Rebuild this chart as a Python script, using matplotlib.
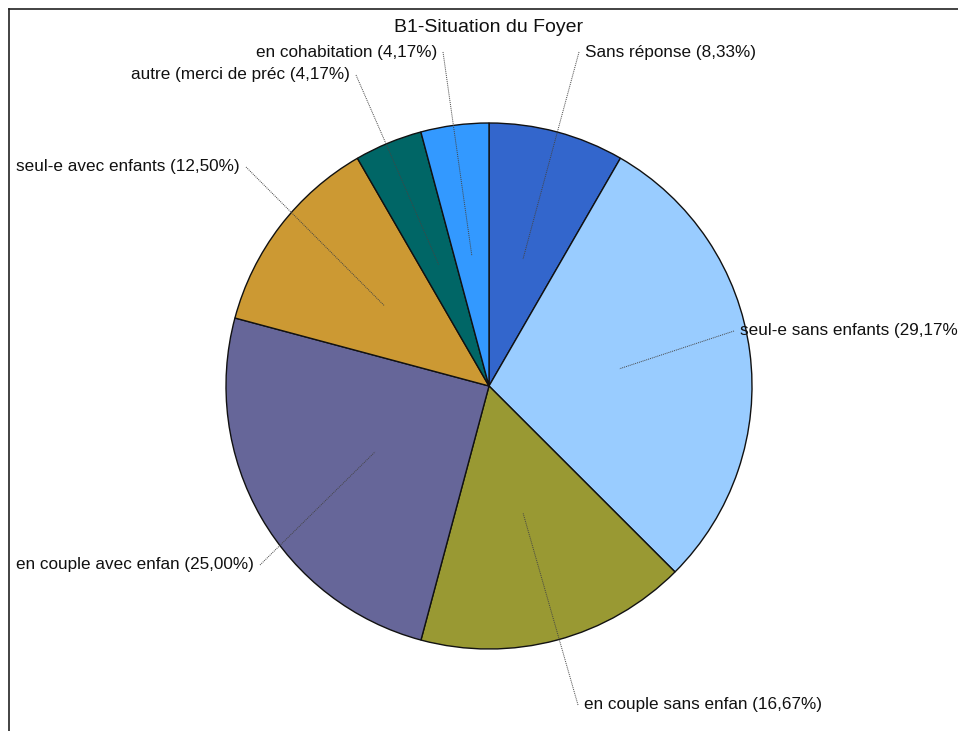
import matplotlib.pyplot as plt
import numpy as np
from matplotlib.lines import Line2D

plt.rcParams['font.family'] = ['Liberation Sans', 'DejaVu Sans']

# data
labels = ['Sans réponse', 'seul-e sans enfants', 'en couple sans enfan',
          'en couple avec enfan', 'seul-e avec enfants',
          'autre (merci de préc', 'en cohabitation']
values = [8.33, 29.17, 16.67, 25.00, 12.50, 4.17, 4.17]
colors = ['#3366CC', '#99CCFF', '#999933', '#666699', '#CC9933', '#006666', '#3399FF']

W, H = 958, 731
# label text anchor positions in pixels (x, y, ha)
label_pos = [(585, 52, 'left'), (740, 331, 'left'), (584, 705, 'left'),
             (254, 565, 'right'), (240, 167, 'right'), (350, 75, 'right'),
             (437, 52, 'right')]

fig = plt.figure(figsize=(W/100, H/100), dpi=100)
ax = fig.add_axes([0, 0, 1, 1])
ax.set_xlim(0, W)
ax.set_ylim(0, H)
ax.set_aspect('equal')
ax.axis('off')

cx, cy, R = 489, H - 386, 263
wedges, _ = ax.pie(values, colors=colors, startangle=90, counterclock=False,
                   center=(cx, cy), radius=R, frame=True,
                   wedgeprops=dict(edgecolor='#111111', linewidth=1.0))
ax.set_xlim(0, W)
ax.set_ylim(0, H)
ax.axis('off')

for w, lab, v, (tx, ty, ha) in zip(wedges, labels, values, label_pos):
    mid = np.deg2rad((w.theta1 + w.theta2) / 2)
    axp = cx + 0.5 * R * np.cos(mid)
    ayp = cy + 0.5 * R * np.sin(mid)
    txt = '%s (%s%%)' % (lab, ('%.2f' % v).replace('.', ','))
    ax.text(tx, H - ty, txt, ha=ha, va='center', fontsize=12.3, color='#111111')
    lx = tx - 6 if ha == 'left' else tx + 6
    ax.plot([lx, axp], [H - ty, ayp], linestyle=(0, (1, 1)), color='#444444', lw=0.7)

ax.text(cx, H - 27, 'B1-Situation du Foyer', ha='center', va='center',
        fontsize=14, color='#111111')

# frame
fig.add_artist(Line2D([9/W, 1], [1 - 9/H, 1 - 9/H], color='#222222', lw=1.2))
fig.add_artist(Line2D([9/W, 9/W], [0, 1 - 9/H], color='#222222', lw=1.2))

plt.savefig('out.png', dpi=100)
